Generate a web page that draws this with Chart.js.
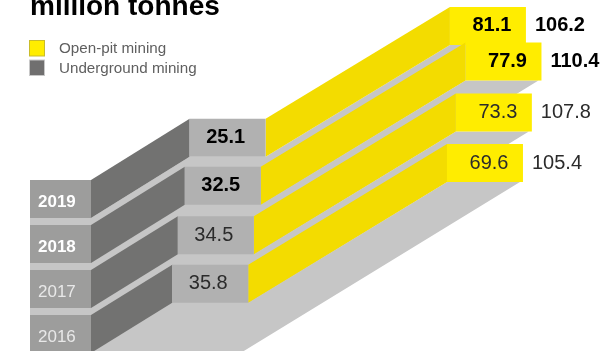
<!DOCTYPE html>
<html>
<head>
<meta charset="utf-8">
<style>
 html,body{margin:0;padding:0;background:#fff;overflow:hidden}
 canvas{display:block}
</style>
<script src="https://cdn.jsdelivr.net/npm/chart.js@4/dist/chart.umd.js"></script>
</head>
<body>
<canvas id="mining" width="604" height="351"></canvas>
<script>
const years=['2019','2018','2017','2016'];
const openPit=[81.1,77.9,73.3,69.6];
const underground=[25.1,32.5,34.5,35.8];
const totals=[106.2,110.4,107.8,105.4];
const highlighted=['2019','2018'];

const FONT='"Liberation Sans", Arial, sans-serif';
const frontLeft=30, frontRight=91, faceW=76, rowH=38;
const darkSlope=.62, sideSlope=.607, floorSlope=.612;

function poly(ctx,color,pts){
 ctx.fillStyle=color;
 ctx.beginPath();
 pts.forEach((p,i)=> i?ctx.lineTo(p[0],p[1]):ctx.moveTo(p[0],p[1]));
 ctx.closePath();
 ctx.fill();
}

function label(ctx,text,x,y,font,color,align){
 ctx.font=font+' '+FONT;
 ctx.fillStyle=color;
 ctx.textAlign=align||'center';
 ctx.textBaseline='middle';
 ctx.fillText(text,x,y);
}

// the 3d blocks, back row first so the nearer rows overlap it
const blocks={
 id:'blocks',
 beforeDatasetsDraw(chart){
  const ctx=chart.ctx, s=chart.scales;
  ctx.save();
  years.forEach((year,i)=>{
   const mid=s.y.getPixelForValue(i);
   const top=mid-rowH/2, bot=mid+rowH/2;
   const boxR=s.xOpen.getPixelForValue(openPit[i]);
   const boxL=boxR-faceW;
   const boxT=top-(boxL-frontRight)*darkSlope;
   const faceL=s.xTotal.getPixelForValue(totals[i]);
   const faceR=faceL+faceW;
   const faceT=boxT-(faceL-boxR)*sideSlope;
   const edge=faceT+rowH+(faceR-3-frontRight)*floorSlope;

   poly(ctx,'#c6c6c6',[[frontLeft,bot],[frontRight,bot],[boxL,boxT+rowH],[boxR,boxT+rowH],[faceL,faceT+rowH],
    [faceR-3,faceT+rowH],[frontRight,edge],[frontLeft,edge]]);
   poly(ctx,'#727271',[[frontRight,top],[boxL,boxT],[boxL,boxT+rowH],[frontRight,bot]]);
   poly(ctx,'#f3dc00',[[boxR,boxT],[faceL,faceT],[faceL,faceT+rowH],[boxR,boxT+rowH]]);
   poly(ctx,'#9d9d9c',[[frontLeft,top],[frontRight,top],[frontRight,bot],[frontLeft,bot]]);
   poly(ctx,'#b1b1b1',[[boxL,boxT],[boxR,boxT],[boxR,boxT+rowH],[boxL,boxT+rowH]]);
   poly(ctx,'#ffed00',[[faceL,faceT],[faceR,faceT],[faceR,faceT+rowH],[faceL,faceT+rowH]]);

   const hot=highlighted.includes(year);
   const weight=hot?'bold 20px':'20px';
   const ink=hot?'#000':'#2b2b2b';
   label(ctx,year,frontLeft+8,mid+3,hot?'bold 17px':'17px',hot?'#fff':'#e8e8e8','left');
   label(ctx,String(underground[i]),boxR-faceW/2-2,boxT+rowH/2,weight,ink);
   label(ctx,openPit[i].toFixed(1),faceL+faceW/2+4,faceT+rowH/2,weight,ink);
   label(ctx,totals[i].toFixed(1),faceR+9,faceT+rowH/2,weight,ink,'left');
  });
  ctx.restore();
 },
 afterDraw(chart){
  const ctx=chart.ctx;
  ctx.save();
  label(ctx,'million tonnes',frontLeft,7,'bold 28px','#000','left');
  chart.data.datasets.slice(0,2).forEach((d,i)=>{
   const y=40+i*19.5;
   poly(ctx,d.legendEdge,[[29,y],[45,y],[45,y+16.5],[29,y+16.5]]);
   poly(ctx,d.legendColor,[[30,y+1],[44,y+1],[44,y+15.5],[30,y+15.5]]);
   label(ctx,d.label,59,y+9,'15.2px','#5f5f5f','left');
  });
  ctx.restore();
 }
};

new Chart(document.getElementById('mining'),{
 type:'bar',
 data:{
  labels:years,
  datasets:[
   {label:'Open-pit mining',data:openPit,xAxisID:'xOpen',backgroundColor:'transparent',legendColor:'#ffed00',legendEdge:'#c9bc2a'},
   {label:'Underground mining',data:underground,xAxisID:'xOpen',backgroundColor:'transparent',legendColor:'#706f6f',legendEdge:'#c8c8c8'},
   {label:'Total',data:totals,xAxisID:'xTotal',backgroundColor:'transparent'}
  ]
 },
 options:{
  indexAxis:'y',
  responsive:false,
  animation:false,
  layout:{padding:{top:199,bottom:17,left:0,right:0}},
  plugins:{legend:{display:false},tooltip:{enabled:false}},
  scales:{
   y:{display:false,offset:false},
   // both x axes are cut, as in the source graphic
   xOpen:{type:'linear',display:false,min:-94.8,max:305.2},
   xTotal:{type:'linear',display:false,min:-15.4,max:147.84}
  }
 },
 plugins:[blocks]
});
</script>
</body>
</html>
